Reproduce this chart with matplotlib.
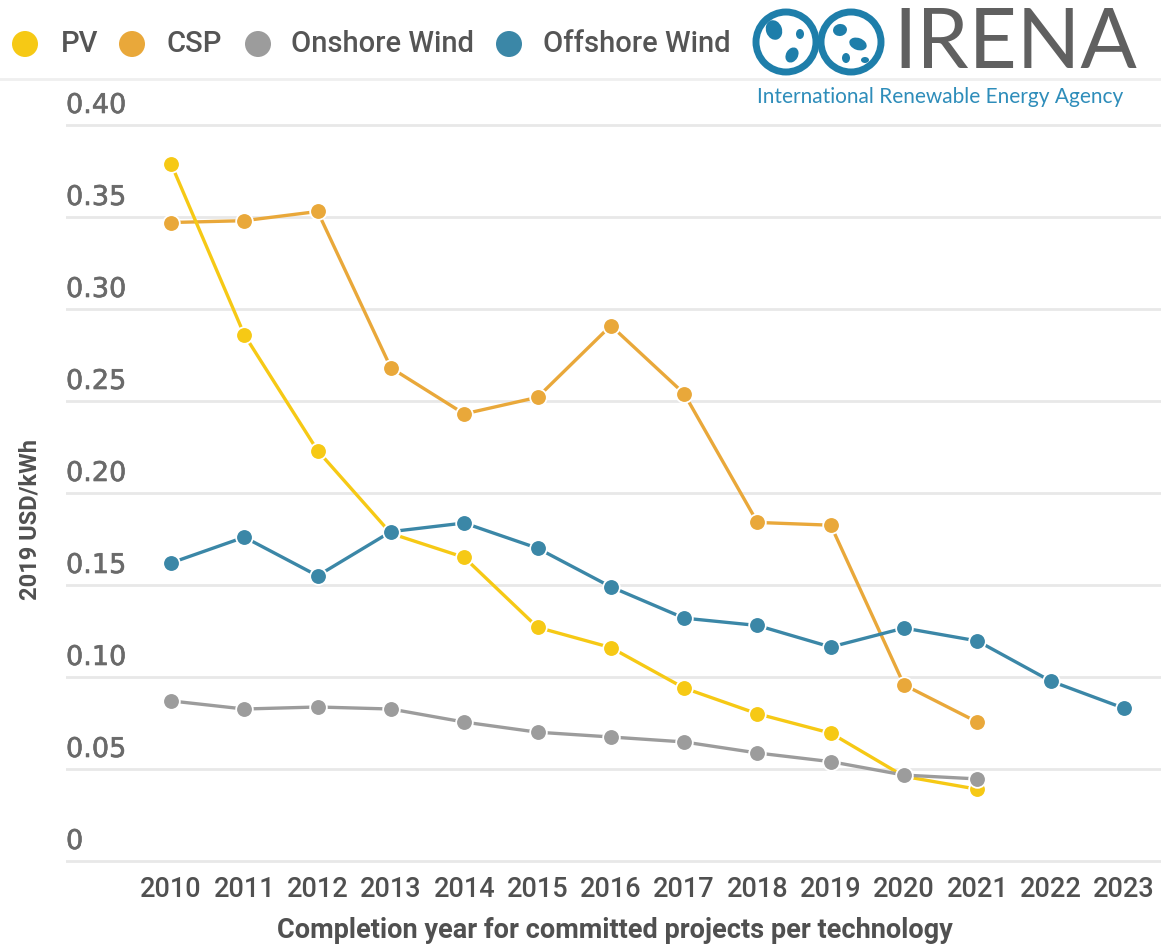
import matplotlib
matplotlib.use("Agg")
import matplotlib.pyplot as plt
from matplotlib.patches import Circle, Ellipse
from matplotlib.lines import Line2D
import matplotlib.patheffects as pe
import matplotlib.transforms as mtransforms

# LCOE of committed projects, 2019 USD/kWh
years = list(range(2010, 2024))
pv = [0.379, 0.286, 0.223, 0.178, 0.165, 0.127, 0.116, 0.094, 0.080, 0.0695, 0.046, 0.039]
csp = [0.347, 0.348, 0.353, 0.268, 0.243, 0.252, 0.291, 0.254, 0.184, 0.1825, 0.0957, 0.0755]
onshore = [0.087, 0.0826, 0.0837, 0.0826, 0.0755, 0.070, 0.0674, 0.0647, 0.0587, 0.054, 0.0467, 0.0446]
offshore = [0.162, 0.176, 0.155, 0.179, 0.1837, 0.170, 0.149, 0.132, 0.128, 0.1163,
            0.1266, 0.1196, 0.0978, 0.083]

yticks = [0, 0.05, 0.10, 0.15, 0.20, 0.25, 0.30, 0.35, 0.40]
ytick_labels = ["0", "0.05", "0.10", "0.15", "0.20", "0.25", "0.30", "0.35", "0.40"]

series = [
    ("PV", pv, "#F6C915", 3),
    ("CSP", csp, "#E9A83A", 2),
    ("Onshore Wind", onshore, "#9C9C9C", 5),
    ("Offshore Wind", offshore, "#3B87A7", 4),
]

W, H = 1161, 947
fig = plt.figure(figsize=(W / 100, H / 100), dpi=100)
fig.patch.set_facecolor("white")

px = 1840.0  # pixels per unit on the y axis
ax = fig.add_axes([66 / W, (H - 866) / H, 1 - 66 / W, (866 - 120) / H])
ax.set_ylim(-5 / px, 0.40 + 5 / px)
ax.set_xlim(2010 - 105 / 73.3, 2023 + 37 / 73.3)

for name, vals, color, z in series:
    ax.plot(years[:len(vals)], vals, color=color, lw=2.4, marker="o", ms=12,
            mfc=color, mec="white", mew=1.3, zorder=z, clip_on=False)

ax.set_yticks(yticks)
ax.set_yticklabels([])
ax.grid(axis="y", color="#e8e8e8", lw=2)
ax.set_axisbelow(True)
ax.tick_params(axis="both", length=0)
ax.set_xticks(years)
ax.set_xticklabels([str(y) for y in years], fontsize=19.5, family="Roboto",
                   fontweight="medium", color="#505050")
ax.tick_params(axis="x", pad=7)
for s in ax.spines.values():
    s.set_visible(False)

# y tick labels sit just above their gridlines
trans = mtransforms.blended_transform_factory(ax.transAxes, ax.transData)
for v, lab in zip(yticks, ytick_labels):
    ax.annotate(lab, (0, v), xycoords=trans, xytext=(0, 6), textcoords="offset pixels",
                ha="left", va="bottom", fontsize=19.5, family="DejaVu Sans",
                color="#6a6a6a",
                path_effects=[pe.withStroke(linewidth=0.45, foreground="#6a6a6a")])

fig.text(30 / W, 1 - 520 / H, "2019 USD/kWh", rotation=90, ha="center", va="center",
         fontsize=17, family="Roboto", fontweight="bold", color="#505050")
fig.text(615 / W, 1 - 930 / H, "Completion year for committed projects per technology",
         ha="center", va="center", fontsize=19.5, family="Roboto", fontweight="bold",
         color="#505050")

# legend row
leg_x = [(25, 61), (132, 166), (258, 291), (509, 543)]
for (cx, tx), (name, vals, color, z) in zip(leg_x, series):
    fig.patches.append(Circle((cx, H - 44), 13, transform=None, facecolor=color,
                              edgecolor="none"))
    fig.text(tx / W, 1 - 44 / H, name, ha="left", va="center", fontsize=21,
             family="Roboto", fontweight="medium", color="#555555")

fig.add_artist(Line2D([0, 1], [1 - 79 / H, 1 - 79 / H], transform=fig.transFigure,
                      color="#efefef", lw=2))

# IRENA logo: two globes joined like an infinity sign
blue = "#1E7EAA"
for cx in (786, 851):
    fig.patches.append(Circle((cx, H - 42), 30, transform=None, facecolor="white",
                              edgecolor=blue, lw=5))
# rough continents
blobs = [
    (774, 30, 16, 20, 20), (792, 55, 12, 16, -30), (800, 34, 8, 10, 0),
    (840, 30, 14, 12, 10), (858, 44, 18, 12, -20), (846, 58, 8, 10, 0), (865, 60, 8, 6, 0),
]
for bx, by, bw, bh, ang in blobs:
    fig.patches.append(Ellipse((bx, H - by), bw, bh, angle=ang, transform=None,
                               facecolor=blue, edgecolor="none"))
fig.text(1015 / W, 1 - 45 / H, "IRENA", ha="center", va="center", fontsize=60,
         family="Lato", color="#606060")
fig.text(940 / W, 1 - 97 / H, "International Renewable Energy Agency", ha="center",
         va="center", fontsize=15, family="Lato", color="#2E8DBA")

fig.savefig("out.png", dpi=100, facecolor="white")
